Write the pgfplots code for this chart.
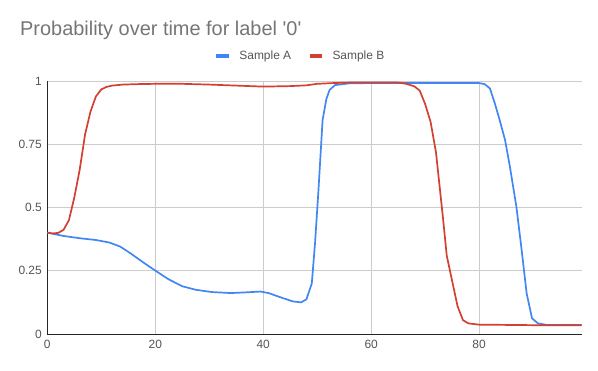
\documentclass[border=0pt]{standalone}
\usepackage{pgfplots}
\pgfplotsset{compat=1.18}
\usepackage{fontspec}
\setmainfont{Liberation Sans}[Ligatures=TeXOff]
\definecolor{sA}{HTML}{4285F4}
\definecolor{sB}{HTML}{D33F31}
\definecolor{gridc}{HTML}{CCCCCC}
\definecolor{tickc}{HTML}{555555}
\definecolor{titlec}{HTML}{757575}
\begin{document}
\begin{tikzpicture}
\begin{axis}[
  at={(47.3bp,-334bp)}, anchor=south west,
  scale only axis, width=534.4bp, height=252.7bp,
  xmin=0, xmax=99, ymin=0, ymax=1,
  xtick={0,20,40,60,80}, xticklabels={0,20,40,60,80},
  ytick={0,0.25,0.5,0.75,1}, yticklabels={0,0.25,0.5,0.75,1},
  /pgf/number format/assume math mode=true,
  axis x line*=bottom, axis y line*=left,
  axis line style={draw=black!85, line width=0.8bp, -},
  major tick length=0pt,
  grid=major, major grid style={draw=gridc, line width=0.8bp},
  tick label style={font=\fontsize{12}{14}\selectfont, text=tickc},
  yticklabel style={xshift=-2bp},
  xticklabel style={yshift=-3bp},
  legend columns=2,
  legend style={at={(0.4717,1.1013)}, anchor=center, draw=none, fill=none,
    inner sep=0pt, nodes={inner sep=0pt, font=\fontsize{12}{14}\selectfont, text=tickc},
    /tikz/every odd column/.append style={column sep=8.4bp},
    /tikz/every even column/.append style={column sep=16.3bp}},
  legend image code/.code={\draw[line width=4bp] (0bp,0bp) -- (12.6bp,0bp);},
  every axis plot/.append style={line width=1.7bp, line join=round, no markers},
]
\addplot[sA] coordinates {
(0,0.401) (3,0.388) (6,0.379) (9,0.372) (11.5,0.362) (13.5,0.346) (15.5,0.318)
(18,0.28) (20,0.251) (22.5,0.216) (25,0.189) (27.5,0.175) (30.5,0.166) (34,0.162)
(37,0.165) (39.5,0.168) (41,0.162) (43.5,0.143) (45.5,0.129) (47,0.125) (48,0.137)
(49,0.2) (49.6,0.36) (50.2,0.557) (51,0.847) (51.7,0.93) (52.3,0.966) (53.3,0.985)
(56,0.992) (60,0.993) (70,0.993) (80,0.993) (81,0.989) (82,0.972) (82.9,0.913)
(83.8,0.847) (84.8,0.768) (85.7,0.662) (86.9,0.504) (87.8,0.346) (88.8,0.161)
(89.8,0.062) (90.9,0.042) (92.5,0.036) (99,0.036)
};
\addlegendentry{Sample A}
\addplot[sB] coordinates {
(0,0.401) (1,0.398) (2,0.400) (3,0.412) (4,0.450) (5,0.54) (6,0.65) (7,0.79)
(8,0.88) (9,0.94) (10,0.968) (11,0.978) (12,0.983) (14,0.987) (17,0.989) (20,0.99)
(25,0.99) (30,0.987) (35,0.983) (40,0.979) (45,0.981) (48,0.984) (50,0.99)
(53,0.993) (56,0.995) (60,0.995) (65,0.995) (66.5,0.99) (68,0.98) (69,0.963)
(70,0.91) (71,0.84) (72,0.72) (72.7,0.58) (73.3,0.46) (74,0.31) (75,0.21)
(76,0.11) (77,0.055) (78,0.042) (80,0.037) (85,0.036) (90,0.035) (99,0.035)
};
\addlegendentry{Sample B}
\end{axis}
\node[anchor=base west, text=titlec, font=\fontsize{20}{24}\selectfont, inner sep=0pt]
  at (20bp,-35bp) {Probability over time for label '0'};
\pgfresetboundingbox
\path[use as bounding box] (0bp,0bp) rectangle (598bp,-371bp);
\end{tikzpicture}
\end{document}
